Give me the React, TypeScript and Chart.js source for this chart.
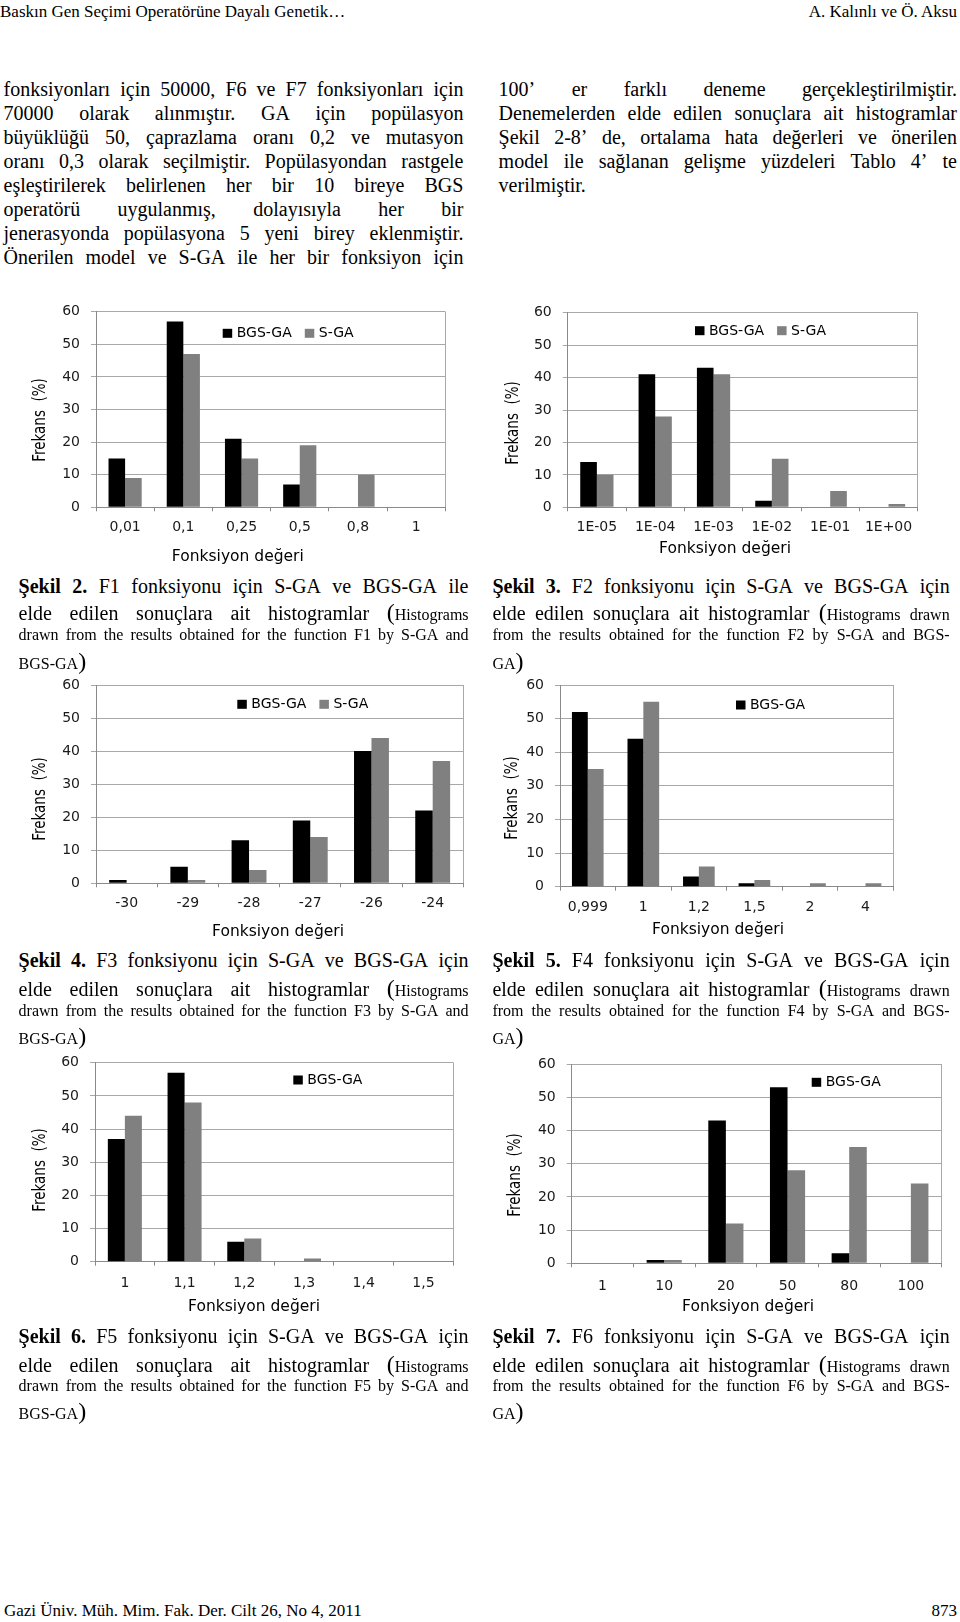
import React, { useEffect, useRef } from "react";
import { Chart, registerables } from "chart.js";

Chart.register(...registerables);

// ---------------- data ----------------
const SERIES_A = "BGS-GA";
const SERIES_B = "S-GA";
const yTickValues = [0, 10, 20, 30, 40, 50, 60];

const f1Labels = ["0,01", "0,1", "0,25", "0,5", "0,8", "1"];
const f1Bgs = [15, 57, 21, 7, 0, 0];
const f1Sga = [9, 47, 15, 19, 10, 0];

const f2Labels = ["1E-05", "1E-04", "1E-03", "1E-02", "1E-01", "1E+00"];
const f2Bgs = [14, 41, 43, 2, 0, 0];
const f2Sga = [10, 28, 41, 15, 5, 1];

const f3Labels = ["-30", "-29", "-28", "-27", "-26", "-24"];
const f3Bgs = [1, 5, 13, 19, 40, 22];
const f3Sga = [0, 1, 4, 14, 44, 37];

const f4Labels = ["0,999", "1", "1,2", "1,5", "2", "4"];
const f4Bgs = [52, 44, 3, 1, 0, 0];
const f4Sga = [35, 55, 6, 2, 1, 1];

const f5Labels = ["1", "1,1", "1,2", "1,3", "1,4", "1,5"];
const f5Bgs = [37, 57, 6, 0, 0, 0];
const f5Sga = [44, 48, 7, 1, 0, 0];

const f6Labels = ["1", "10", "20", "50", "80", "100"];
const f6Bgs = [0, 1, 43, 53, 3, 0];
const f6Sga = [0, 1, 12, 28, 35, 24];

const X_TITLE = "Fonksiyon değeri";
const Y_TITLE = "Frekans  (%)";

// ---------------- styles ----------------
const SANS = "'DejaVu Sans', 'Noto Sans', sans-serif";
const SERIF = "'Liberation Serif', 'Times New Roman', serif";
const GRID = "#a8a8a8";
const AXIS = "#8a8a8a";
const BAR_A = "#000000";
const BAR_B = "#808080";
const TICK_COLOR = "#1a1a1a";

type Cfg = {
  col: number;
  plotL: number;
  plotT: number;
  plotR: number;
  plotB: number;
  labels: string[];
  bgs: number[];
  sga: number[];
  xGap: number;
  xTitle: [number, number];
  yTitle: [number, number];
  legend: [number, number];
  legendItems: number;
};

const decorPlugin = {
  id: "decor",
  afterDraw(chart: any, _args: any, o: any) {
    const ctx = chart.ctx as CanvasRenderingContext2D;
    ctx.save();
    ctx.fillStyle = "#000";
    ctx.textBaseline = "middle";
    ctx.textAlign = "center";
    ctx.font = `${o.xTitleSize}px ${SANS}`;
    ctx.fillText(o.xTitle, o.xTitleX, o.xTitleY);
    ctx.save();
    ctx.translate(o.yTitleX, o.yTitleY);
    ctx.scale(1.3, 1);
    ctx.rotate(-Math.PI / 2);
    ctx.font = `${o.yTitleSize}px ${SANS}`;
    ctx.fillText(o.yTitle, 0, 0);
    ctx.restore();
    ctx.font = `${o.legendSize}px ${SANS}`;
    ctx.textAlign = "left";
    let x = o.legendX;
    chart.data.datasets.slice(0, o.legendItems).forEach((d: any) => {
      ctx.fillStyle = d.backgroundColor;
      ctx.fillRect(x, o.legendY - 4.5, 9.5, 9);
      ctx.fillStyle = "#000";
      ctx.fillText(d.label, x + 14, o.legendY + 0.5);
      x += 14 + ctx.measureText(d.label).width + 13;
    });
    ctx.restore();
  },
};

function BarChart({ cfg }: { cfg: Cfg }) {
  const ref = useRef<HTMLCanvasElement>(null);
  const top = Math.round(cfg.plotT) - 20;
  const height = Math.round(cfg.plotB) + 65 - top;
  useEffect(() => {
    if (!ref.current) return;
    const tickFont = { family: SANS, size: 14 };
    const chart = new Chart(ref.current, {
      type: "bar",
      data: {
        labels: cfg.labels,
        datasets: [
          { label: SERIES_A, data: cfg.bgs, backgroundColor: BAR_A, borderWidth: 0, categoryPercentage: 0.57, barPercentage: 1 },
          { label: SERIES_B, data: cfg.sga, backgroundColor: BAR_B, borderWidth: 0, categoryPercentage: 0.57, barPercentage: 1 },
        ],
      },
      plugins: [decorPlugin],
      options: {
        responsive: false,
        animation: false,
        events: [],
        layout: {
          padding: { left: 0, top: cfg.plotT - top, right: cfg.col + 480 - cfg.plotR, bottom: 0 },
        },
        plugins: {
          legend: { display: false },
          tooltip: { enabled: false },
          decor: {
            xTitle: X_TITLE,
            yTitle: Y_TITLE,
            xTitleSize: 15.5,
            yTitleSize: 13.5,
            legendSize: 14,
            xTitleX: cfg.xTitle[0] - cfg.col,
            xTitleY: cfg.xTitle[1] - top,
            yTitleX: cfg.yTitle[0] - cfg.col,
            yTitleY: cfg.yTitle[1] - top,
            legendX: cfg.legend[0] - cfg.col,
            legendY: cfg.legend[1] - top,
            legendItems: cfg.legendItems,
          },
        } as any,
        scales: {
          x: {
            offset: true,
            grid: {
              offset: true,
              drawOnChartArea: true,
              color: (c: any) => (c.type === "scale" ? GRID : "rgba(0,0,0,0)"),
              tickColor: AXIS,
              tickLength: 4,
            },
            border: { display: true, color: AXIS },
            ticks: {
              font: tickFont,
              color: TICK_COLOR,
              padding: cfg.xGap - 4 - 8.4,
              maxRotation: 0,
              minRotation: 0,
              autoSkip: false,
            },
            afterFit: (s: any) => {
              s.height = top + height - cfg.plotB;
            },
          },
          y: {
            min: yTickValues[0],
            max: yTickValues[yTickValues.length - 1],
            afterBuildTicks: (s: any) => {
              s.ticks = yTickValues.map((v) => ({ value: v }));
            },
            grid: { color: GRID, tickColor: GRID, tickLength: 5 },
            border: { display: true, color: AXIS },
            ticks: { font: tickFont, color: TICK_COLOR, padding: 11 },
            afterFit: (s: any) => {
              s.width = cfg.plotL - cfg.col;
            },
          },
        },
      } as any,
    });
    return () => chart.destroy();
  }, []);
  return (
    <canvas
      ref={ref}
      width={480}
      height={height}
      style={{ position: "absolute", left: cfg.col, top, width: 480, height }}
    />
  );
}

const charts: Cfg[] = [
  { col: 0, plotL: 96, plotT: 311.7, plotR: 445.3, plotB: 507.3, labels: f1Labels, bgs: f1Bgs, sga: f1Sga, xGap: 20.4, xTitle: [237.8, 556.7], yTitle: [40, 420], legend: [222.7, 333.3], legendItems: 2 },
  { col: 480, plotL: 567.7, plotT: 312.7, plotR: 917.7, plotB: 507.3, labels: f2Labels, bgs: f2Bgs, sga: f2Sga, xGap: 20, xTitle: [725, 549.3], yTitle: [513.3, 423], legend: [695, 330.7], legendItems: 2 },
  { col: 0, plotL: 96, plotT: 685, plotR: 463.3, plotB: 883.3, labels: f3Labels, bgs: f3Bgs, sga: f3Sga, xGap: 20, xTitle: [278, 931.7], yTitle: [40, 799], legend: [237.3, 704.3], legendItems: 2 },
  { col: 480, plotL: 560, plotT: 685, plotR: 893.3, plotB: 886.7, labels: f4Labels, bgs: f4Bgs, sga: f4Sga, xGap: 21, xTitle: [718, 930], yTitle: [512.3, 798], legend: [736, 705], legendItems: 1 },
  { col: 0, plotL: 95, plotT: 1062.7, plotR: 453.3, plotB: 1261.7, labels: f5Labels, bgs: f5Bgs, sga: f5Sga, xGap: 21.6, xTitle: [254, 1306.7], yTitle: [40, 1170], legend: [293.3, 1080], legendItems: 1 },
  { col: 480, plotL: 571.7, plotT: 1064, plotR: 941.7, plotB: 1263.3, labels: f6Labels, bgs: f6Bgs, sga: f6Sga, xGap: 23.4, xTitle: [748, 1306.7], yTitle: [515, 1175], legend: [811.7, 1082.3], legendItems: 1 },
];

// ---------------- text helpers ----------------
type Word = React.ReactNode;

function Line({ x, y, w, words, justify = true, size = 20, lh = 24, right = false }: { x: number; y: number; w: number; words: Word[] | string; justify?: boolean; size?: number; lh?: number; right?: boolean }) {
  const list: Word[] = typeof words === "string" ? words.split(" ") : words;
  const base: React.CSSProperties = {
    position: "absolute",
    left: x,
    top: y - lh / 2,
    width: w,
    height: lh,
    lineHeight: `${lh}px`,
    fontSize: size,
    whiteSpace: "nowrap",
  };
  if (justify) {
    return (
      <div style={{ ...base, display: "flex", justifyContent: "space-between", alignItems: "baseline" }}>
        {list.map((wd, i) => (
          <span key={i}>{wd}</span>
        ))}
      </div>
    );
  }
  return (
    <div style={{ ...base, textAlign: right ? "right" : "left" }}>
      {list.map((wd, i) => (
        <React.Fragment key={i}>
          {i > 0 ? " " : ""}
          {wd}
        </React.Fragment>
      ))}
    </div>
  );
}

const small = (t: string) => <span style={{ fontSize: 16 }}>{t}</span>;
const paren = (p: string) => <span style={{ fontSize: 24 }}>{p}</span>;

function Caption({ x, w, ys, num, fn, endWord, rightStyle }: { x: number; w: number; ys: number[]; num: number; fn: string; endWord: string; rightStyle: boolean }) {
  const l1: Word[] = [<b>Şekil</b>, <b>{num}.</b>, fn, "fonksiyonu", "için", "S-GA", "ve", "BGS-GA", endWord];
  const l2: Word[] = ["elde", "edilen", "sonuçlara", "ait", "histogramlar", <>{paren("(")}{small("Histograms")}</>];
  if (rightStyle) l2.push(small("drawn"));
  const l3 = rightStyle
    ? `from the results obtained for the function ${fn} by S-GA and BGS-`
    : `drawn from the results obtained for the function ${fn} by S-GA and`;
  const l4: Word[] = [<>{small(rightStyle ? "GA" : "BGS-GA")}{paren(")")}</>];
  return (
    <>
      <Line x={x} y={ys[0]} w={w} words={l1} />
      <Line x={x} y={ys[1]} w={w} words={l2} />
      <Line x={x} y={ys[2]} w={w} words={l3} size={16} />
      <Line x={x} y={ys[3]} w={w} words={l4} justify={false} />
    </>
  );
}

const leftBody = [
  "fonksiyonları için 50000, F6 ve F7 fonksiyonları için",
  "70000 olarak alınmıştır. GA için popülasyon",
  "büyüklüğü 50, çaprazlama oranı 0,2 ve mutasyon",
  "oranı 0,3 olarak seçilmiştir. Popülasyondan rastgele",
  "eşleştirilerek belirlenen her bir 10 bireye BGS",
  "operatörü uygulanmış, dolayısıyla her bir",
  "jenerasyonda popülasyona 5 yeni birey eklenmiştir.",
  "Önerilen model ve S-GA ile her bir fonksiyon için",
];
const rightBody = [
  "100’ er farklı deneme gerçekleştirilmiştir.",
  "Denemelerden elde edilen sonuçlara ait histogramlar",
  "Şekil 2-8’ de, ortalama hata değerleri ve önerilen",
  "model ile sağlanan gelişme yüzdeleri Tablo 4’ te",
  "verilmiştir.",
];

export default function App() {
  const rowA = [585.5, 612.4, 635.2, 661];
  const rowB = [960, 988, 1010.7, 1035.5];
  const rowC = [1335.6, 1363.5, 1386.2, 1411];
  const LX = 18.6, LW = 450;
  const RX = 492.4, RW = 457.3;
  return (
    <div
      style={{
        position: "absolute",
        left: 0,
        top: 0,
        width: 960,
        height: 1622,
        overflow: "hidden",
        background: "#fff",
        color: "#000",
        fontFamily: SERIF,
      }}
    >
      <Line x={0} y={12.4} w={600} words="Baskın Gen Seçimi Operatörüne Dayalı Genetik…" justify={false} size={17} lh={20} />
      <Line x={600} y={12.4} w={357} words="A. Kalınlı ve Ö. Aksu" justify={false} size={17} lh={20} right />

      {leftBody.map((t, i) => (
        <Line key={"l" + i} x={3.5} y={89 + i * 24} w={460} words={t} justify={true} />
      ))}
      {rightBody.map((t, i) => (
        <Line key={"r" + i} x={498.6} y={89 + i * 24} w={458.4} words={t} justify={i < rightBody.length - 1} />
      ))}

      {charts.map((c, i) => (
        <BarChart key={i} cfg={c} />
      ))}

      <Caption x={LX} w={LW} ys={rowA} num={2} fn="F1" endWord="ile" rightStyle={false} />
      <Caption x={RX} w={RW} ys={rowA} num={3} fn="F2" endWord="için" rightStyle={true} />
      <Caption x={LX} w={LW} ys={rowB} num={4} fn="F3" endWord="için" rightStyle={false} />
      <Caption x={RX} w={RW} ys={rowB} num={5} fn="F4" endWord="için" rightStyle={true} />
      <Caption x={LX} w={LW} ys={rowC} num={6} fn="F5" endWord="için" rightStyle={false} />
      <Caption x={RX} w={RW} ys={rowC} num={7} fn="F6" endWord="için" rightStyle={true} />

      <Line x={4} y={1610.7} w={600} words="Gazi Üniv. Müh. Mim. Fak. Der. Cilt 26, No 4, 2011" justify={false} size={17} lh={20} />
      <Line x={700} y={1610.7} w={257} words="873" justify={false} size={17} lh={20} right />
    </div>
  );
}
